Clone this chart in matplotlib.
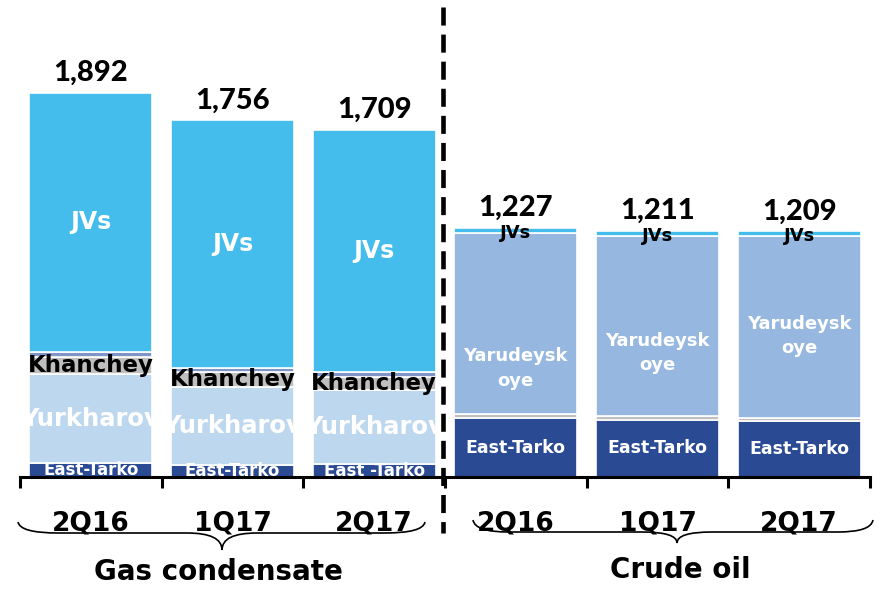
import numpy as np
import matplotlib
matplotlib.use("Agg")
import matplotlib.pyplot as plt
from matplotlib.path import Path
from matplotlib.patches import PathPatch

plt.rcParams['lines.scale_dashes'] = False

# ---------------- data ----------------
periods = ["2Q16", "1Q17", "2Q17", "2Q16", "1Q17", "2Q17"]
groups = ["Gas condensate", "Crude oil"]
totals = [1892, 1756, 1709, 1227, 1211, 1209]
east_tarko = [68, 59, 64, 290, 282, 275]
yurkharov = [440, 386, 362, 0, 0, 0]
khancheyskoye = [83, 73, 68, 0, 0, 0]
gas_other = [24, 20, 24, 0, 0, 0]
crude_other = [0, 0, 0, 22, 17, 14]
yarudeyskoye = [0, 0, 0, 888, 890, 898]
jvs = [1277, 1218, 1191, 27, 22, 22]
east_tarko_names = ["East-Tarko", "East-Tarko", "East -Tarko",
                    "East-Tarko", "East-Tarko", "East-Tarko"]

# ---------------- styling ----------------
C_ET = "#2B4A94"
C_YURK = "#BDD7EE"
C_KHAN = "#BFBFBF"
C_GOTHER = "#8095C7"
C_COTHER = "#BFBFBF"
C_YARU = "#96B8E0"
C_JV = "#44BCEC"
yaru_label_frac = [0.25, 0.35, 0.45]
W, H = 884, 594
base_px = 477
px_per_unit = 0.2031

fig = plt.figure(figsize=(W / 100, H / 100), dpi=100)
ax = fig.add_axes([20 / W, (H - base_px) / H, 850 / W, base_px / H])
ax.set_xlim(-0.5, 5.5)
ax.set_ylim(0, base_px / px_per_unit)

x = np.arange(len(periods))
width = 0.868
series = [(east_tarko, C_ET), (yurkharov, C_YURK), (khancheyskoye, C_KHAN),
          (gas_other, C_GOTHER), (crude_other, C_COTHER),
          (yarudeyskoye, C_YARU), (jvs, C_JV)]
bottom = np.zeros(len(periods))
bottoms = []
for vals, col in series:
    v = np.array(vals, dtype=float)
    m = v > 0
    ax.bar(x[m], v[m], width, bottom=bottom[m], color=col,
           edgecolor="white", linewidth=1.2, zorder=2)
    bottoms.append(bottom.copy())
    bottom = bottom + v

b_et, b_yurk, b_khan, b_gother, b_cother, b_yaru, b_jv = bottoms

bold = dict(fontfamily="DejaVu Sans", fontweight="bold", zorder=5)
for i in range(len(periods)):
    # totals
    ax.annotate(f"{totals[i]:,}", (x[i], totals[i]), xytext=(0, 8.5),
                textcoords="offset points", ha="center", va="baseline",
                fontfamily="Lato", fontweight="black", fontsize=21, zorder=5)
    if i < 3:
        ax.text(x[i], b_jv[i] + jvs[i] / 2, "JVs", ha="center", va="center",
                color="white", fontsize=17, **bold)
        ax.text(x[i], b_khan[i] + khancheyskoye[i] / 2, "Khanchey",
                ha="center", va="center", color="black", fontsize=16.5, **bold)
        ax.text(x[i], b_yurk[i] + yurkharov[i] / 2, "Yurkharov",
                ha="center", va="center", color="white", fontsize=17.5, **bold)
        ax.text(x[i], east_tarko[i] / 2, east_tarko_names[i], ha="center",
                va="center", color="white", fontsize=12, clip_on=True, **bold)
    else:
        ax.annotate("JVs", (x[i], b_jv[i] + jvs[i] / 2), xytext=(0, -2),
                    textcoords="offset points", ha="center", va="center",
                    color="black", fontsize=13, **bold)
        ax.text(x[i], b_yaru[i] + yarudeyskoye[i] * yaru_label_frac[i - 3],
                "Yarudeysk\noye", ha="center", va="center", color="white",
                fontsize=13, linespacing=1.45, **bold)
        ax.text(x[i], east_tarko[i] / 2, east_tarko_names[i], ha="center",
                va="center", color="white", fontsize=12.5, **bold)

# axes styling
for s in ["left", "right", "top"]:
    ax.spines[s].set_visible(False)
ax.spines["bottom"].set_linewidth(2.2)
ax.spines["bottom"].set_zorder(4)
ax.set_yticks([])
ax.set_xticks(np.arange(-0.5, 6.0, 1.0))
ax.set_xticklabels([])
ax.set_xticks(x, minor=True)
ax.set_xticklabels(periods, minor=True)
ax.tick_params(axis="x", which="major", length=8, width=2.2, direction="out")
ax.tick_params(axis="x", which="minor", length=0, pad=24, labelsize=19)
for lab in ax.get_xticklabels(minor=True):
    lab.set_fontweight("bold")
    lab.set_fontfamily("DejaVu Sans")
ax.set_facecolor("none")

# ---------------- overlay (pixel coordinates) ----------------
ov = fig.add_axes([0, 0, 1, 1], zorder=10)
ov.set_xlim(0, W)
ov.set_ylim(H, 0)
ov.axis("off")
ov.patch.set_alpha(0)

ov.plot([443, 443], [7, 533], color="black", linewidth=3.3,
        dashes=(13, 6.5), solid_capstyle="butt", dash_capstyle="butt")


def brace(x0, x1, y_end, y_line, xtip, ytip, r_end, r_tip):
    verts = [(x0, y_end), (x0 + 2, y_line), (x0 + r_end, y_line),
             (xtip - r_tip, y_line),
             (xtip, y_line), (xtip, ytip),
             (xtip, y_line), (xtip + r_tip, y_line),
             (x1 - r_end, y_line),
             (x1 - 2, y_line), (x1, y_end)]
    codes = [Path.MOVETO, Path.CURVE3, Path.CURVE3, Path.LINETO,
             Path.CURVE3, Path.CURVE3, Path.CURVE3, Path.CURVE3,
             Path.LINETO, Path.CURVE3, Path.CURVE3]
    ov.add_patch(PathPatch(Path(verts, codes), facecolor="none",
                           edgecolor="black", linewidth=1.2))


brace(18, 425, 522, 533, 222, 550, 40, 35)
brace(473, 873, 520, 532, 677, 543, 35, 35)

ov.text(218, 572, groups[0], ha="center", va="center", fontsize=20,
        fontfamily="DejaVu Sans", fontweight="bold")
ov.text(680, 570, groups[1], ha="center", va="center", fontsize=20,
        fontfamily="DejaVu Sans", fontweight="bold")

fig.savefig("out.png", dpi=100)
